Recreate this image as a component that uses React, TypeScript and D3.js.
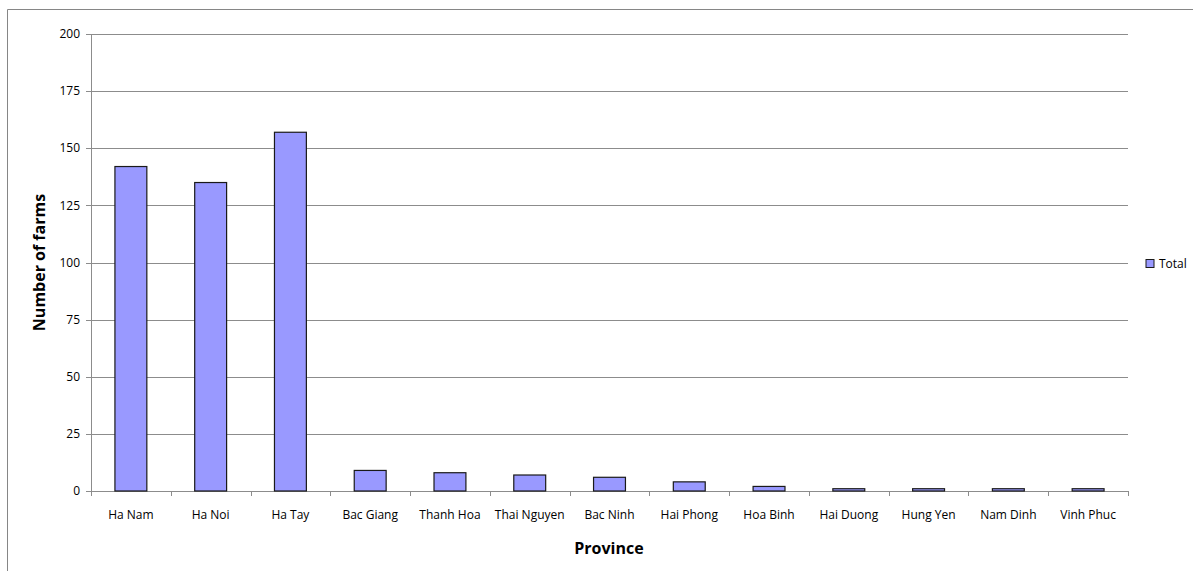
import React from "react";
import * as d3 from "d3";

const provinces = ["Ha Nam", "Ha Noi", "Ha Tay", "Bac Giang", "Thanh Hoa", "Thai Nguyen", "Bac Ninh", "Hai Phong", "Hoa Binh", "Hai Duong", "Hung Yen", "Nam Dinh", "Vinh Phuc"];
const totals = [142, 135, 157, 9, 8, 7, 6, 4, 2, 1, 1, 1, 1];
const yTicks = [0, 25, 50, 75, 100, 125, 150, 175, 200];

const W = 1193;
const H = 571;
const left = 91;
const right = 1128;
const top = 34;
const bottom = 491;
const font = "'Open Sans', Lato, sans-serif";

export default function App() {
  const x = d3.scaleBand<string>().domain(provinces).range([left, right]).paddingInner(0.6).paddingOuter(0.3);
  const xTick = d3.scaleBand<string>().domain(provinces).range([left, right]);
  const y = d3.scaleLinear().domain([0, 200]).range([bottom, top]);
  const gridColor = "#8c8c8c";

  return (
    <svg width={W} height={H} style={{ position: "absolute", left: 0, top: 0, background: "#fff" }}>
      <rect x={0} y={0} width={W} height={H} fill="#fff" />
      {/* outer frame */}
      <line x1={7.5} y1={9.5} x2={W} y2={9.5} stroke="#868686" />
      <line x1={7.5} y1={9.5} x2={7.5} y2={H} stroke="#868686" />
      {/* gridlines */}
      {yTicks.map((t) => (
        <g key={t}>
          <line x1={left - 5} x2={right} y1={Math.round(y(t)) + 0.5} y2={Math.round(y(t)) + 0.5} stroke={gridColor} />
          <text x={80} y={y(t)} dy="0.35em" textAnchor="end" fontFamily={font} fontSize={12} fill="#000">
            {t}
          </text>
        </g>
      ))}
      {/* y axis */}
      <line x1={left + 0.5} x2={left + 0.5} y1={top} y2={bottom} stroke={gridColor} />
      {/* x ticks */}
      {provinces.map((p) => (
        <line key={p} x1={Math.round(xTick(p)!) + 0.5} x2={Math.round(xTick(p)!) + 0.5} y1={bottom} y2={bottom + 5} stroke={gridColor} />
      ))}
      <line x1={right + 0.5} x2={right + 0.5} y1={bottom} y2={bottom + 5} stroke={gridColor} />
      {/* bars */}
      {provinces.map((p, i) => (
        <rect
          key={p}
          x={x(p)!}
          y={y(totals[i])}
          width={x.bandwidth()}
          height={y(0) - y(totals[i])}
          fill="#9999ff"
          stroke="#1a1a1a"
          strokeWidth={1.2}
        />
      ))}
      {/* x labels */}
      {provinces.map((p) => (
        <text key={p} x={xTick(p)! + xTick.bandwidth() / 2} y={515} dy="0.35em" textAnchor="middle" fontFamily={font} fontSize={12} fill="#000">
          {p}
        </text>
      ))}
      {/* axis titles */}
      <text x={609} y={548} dy="0.35em" textAnchor="middle" fontFamily={font} fontSize={16} fontWeight="bold" fill="#000">
        Province
      </text>
      <text transform={`translate(39,${(top + bottom) / 2}) rotate(-90)`} dy="0.35em" textAnchor="middle" fontFamily={font} fontSize={16} fontWeight="bold" fill="#000">
        Number of farms
      </text>
      {/* legend */}
      <rect x={1146} y={259.5} width={8} height={8} fill="#9999ff" stroke="#1a1a1a" />
      <text x={1159} y={264} dy="0.35em" fontFamily={font} fontSize={12} fill="#000">
        Total
      </text>
    </svg>
  );
}
